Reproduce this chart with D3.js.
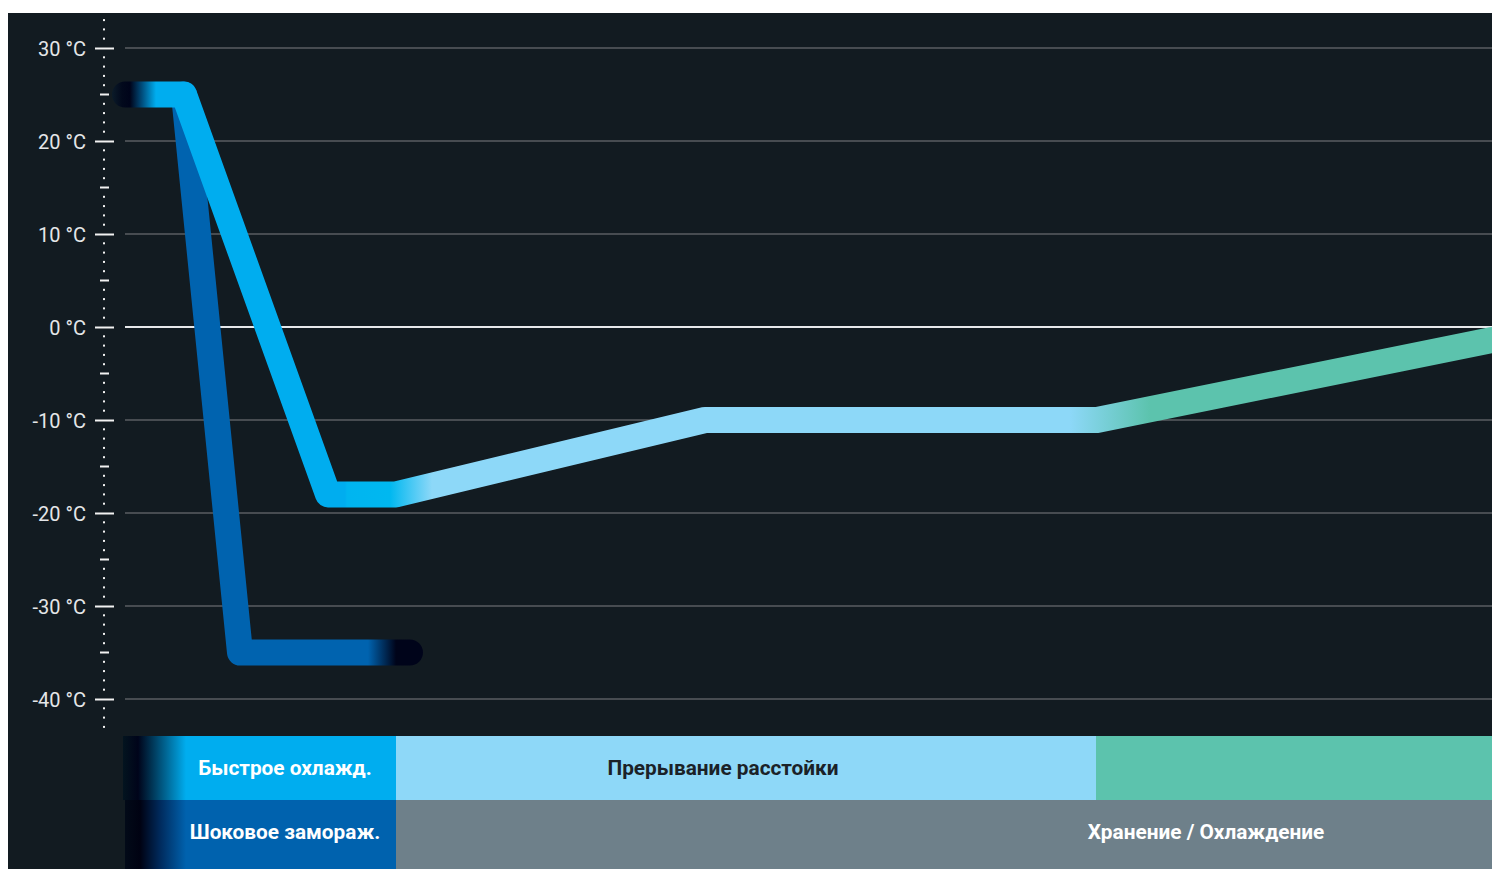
<!DOCTYPE html>
<html><head><meta charset="utf-8">
<script src="https://cdn.jsdelivr.net/npm/d3@7"></script>
<style>html,body{margin:0;padding:0;background:#fff;overflow:hidden}svg{display:block}</style>
</head><body>
<script>
// ---- data ----
const tempTicks = [30, 20, 10, 0, -10, -20, -30, -40];
const minorTicks = [25, 15, 5, -5, -15, -25, -35];
const dotRange = [-43, 33];
// blast chilling -> proof interruption -> storage (time in arbitrary units)
const blastTime = [1.3, 7.2, 21.6, 28.4, 59.3, 98.5, 138];
const blastTemp = [25, 25, -18, -18, -10, -10, -1.4];
// shock freezing
const shockTime = [7.2, 12.8, 29.8];
const shockTemp = [25, -35, -35];
// phase bands
const topLabels = ["Быстрое охлажд.", "Прерывание расстойки", ""];
const topStart = [1.1, 28.4, 98.4];
const topEnd = [28.4, 98.4, 138];
const bottomLabels = ["Шоковое замораж.", "Хранение / Охлаждение"];
const bottomStart = [1.3, 28.4];
const bottomEnd = [28.4, 138];

// ---- layout ----
const W = 1492, H = 869;
const svg = d3.select("body").append("svg").attr("width", W).attr("height", H);
svg.append("rect").attr("x", 8).attr("y", 13).attr("width", W - 8).attr("height", H - 13).attr("fill", "#121b21");

const x = d3.scaleLinear().domain([0, 138]).range([112, 1492]);
const y = d3.scaleLinear().domain([-40, 30]).range([699, 48]);
const axisX = 104;
const defs = svg.append("defs");

function hGrad(id, stops) {
  const g = defs.append("linearGradient").attr("id", id).attr("gradientUnits", "userSpaceOnUse")
    .attr("x1", 0).attr("x2", W).attr("y1", 0).attr("y2", 0);
  stops.forEach(([px, c]) => g.append("stop").attr("offset", px / W).attr("stop-color", c));
}

// gridlines
svg.append("g").selectAll("line").data(tempTicks).join("line")
  .attr("x1", 125).attr("x2", W).attr("y1", d => y(d)).attr("y2", d => y(d))
  .attr("stroke", d => d === 0 ? "#e6e8ea" : "#474c51").attr("stroke-width", 2);

// axis
const axis = d3.axisLeft(y).tickValues(tempTicks).tickSize(0).tickPadding(18)
  .tickFormat(d => `${d} °C`);
const ag = svg.append("g").attr("transform", `translate(${axisX},0)`).call(axis);
ag.select(".domain").remove();
ag.selectAll(".tick line").attr("x1", -9).attr("x2", 10).attr("stroke", "#f2f2f2").attr("stroke-width", 2);
ag.selectAll(".tick text").attr("fill", "#e4e6e8").style("font-family", "Roboto, sans-serif")
  .style("font-size", "20px").attr("dy", "0.35em");
// minor ticks
ag.selectAll(".minor").data(minorTicks).join("line").attr("class", "minor")
  .attr("x1", -4).attr("x2", 5).attr("y1", d => y(d)).attr("y2", d => y(d))
  .attr("stroke", "#f2f2f2").attr("stroke-width", 2);
// dots
const dots = d3.range(dotRange[0], dotRange[1] + 1).filter(d => d % 5 !== 0);
ag.selectAll(".dot").data(dots).join("rect").attr("class", "dot")
  .attr("x", -1).attr("y", d => y(d) - 1).attr("width", 2).attr("height", 2).attr("fill", "#f2f2f2");

// gradients for lines
hGrad("gShock", [[0, "#0063af"], [368, "#0063af"], [396, "#00041a"], [W, "#00041a"]]);
hGrad("gBlast", [[112, "#0b1b29"], [122, "#02091c"], [130, "#00041a"], [142, "#004d7c"], [156, "#00adef"],
  [345, "#00adef"], [347, "#00b5f0"], [390, "#00b8f0"], [432, "#8dd8f8"], [1055, "#8dd8f8"], [1070, "#8dd8f8"],
  [1150, "#5cc3ad"], [W, "#5cc3ad"]]);

const line = d3.line().x(d => x(d[0])).y(d => y(d[1]));
svg.append("path").datum(shockTime.map((t, i) => [t, shockTemp[i]])).attr("d", line)
  .attr("fill", "none").attr("stroke", "url(#gShock)").attr("stroke-width", 26)
  .attr("stroke-linejoin", "round").attr("stroke-linecap", "round");
svg.append("path").datum(blastTime.map((t, i) => [t, blastTemp[i]])).attr("d", line)
  .attr("fill", "none").attr("stroke", "url(#gBlast)").attr("stroke-width", 26)
  .attr("stroke-linejoin", "round").attr("stroke-linecap", "round");

// bands
hGrad("gTop", [[0, "#03141f"], [123, "#03141f"], [138, "#00041a"], [150, "#002e4c"], [186, "#00adef"], [W, "#00adef"]]);
hGrad("gBot", [[0, "#020a18"], [125, "#020a18"], [140, "#000212"], [160, "#002a5c"], [186, "#0062ae"], [W, "#0062ae"]]);
const topFill = ["url(#gTop)", "#8ed8f8", "#5cc3ad"];
const topText = ["#ffffff", "#1b2228", "#ffffff"];
const topTextX = [285, 723, 1290];
const botFill = ["url(#gBot)", "#6e808a"];
const botTextX = [285, 1206];
const bandTop = 736, bandMid = 800, bandBot = 869;

const tg = svg.append("g");
tg.selectAll("rect").data(topLabels).join("rect")
  .attr("x", (d, i) => x(topStart[i])).attr("width", (d, i) => x(topEnd[i]) - x(topStart[i]))
  .attr("y", bandTop).attr("height", bandMid - bandTop).attr("fill", (d, i) => topFill[i]);
tg.selectAll("text").data(topLabels).join("text")
  .attr("x", (d, i) => topTextX[i]).attr("y", 768).attr("dy", "0.36em")
  .attr("text-anchor", "middle").attr("fill", (d, i) => topText[i]).text(d => d);
const bg = svg.append("g");
bg.selectAll("rect").data(bottomLabels).join("rect")
  .attr("x", (d, i) => x(bottomStart[i])).attr("width", (d, i) => x(bottomEnd[i]) - x(bottomStart[i]))
  .attr("y", bandMid).attr("height", bandBot - bandMid).attr("fill", (d, i) => botFill[i]);
bg.selectAll("text").data(bottomLabels).join("text")
  .attr("x", (d, i) => botTextX[i]).attr("y", 832).attr("dy", "0.36em")
  .attr("text-anchor", "middle").attr("fill", "#ffffff").text(d => d);
svg.selectAll("g text").filter(function(){ return !this.closest(".tick"); })
  .style("font-family", "Roboto, sans-serif").style("font-weight", 700).style("font-size", "20.8px");
</script>
</body></html>
